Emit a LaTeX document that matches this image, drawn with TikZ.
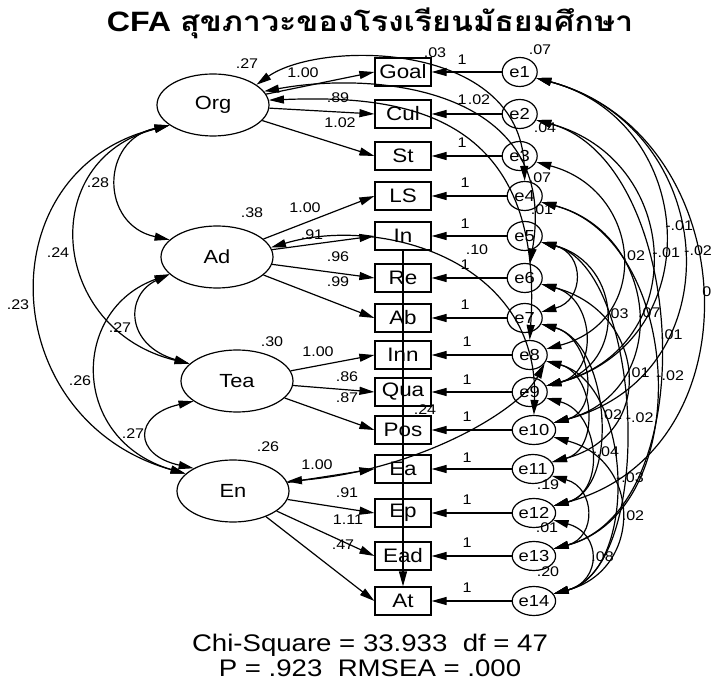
\documentclass[tikz,border=0pt]{standalone}
\usepackage{fontspec}
\setmainfont{Liberation Sans}[FakeStretch=1.15]
\newfontfamily\thaifont[Script=Thai,FakeStretch=1.15]{Loma}
\usetikzlibrary{positioning,arrows.meta,shapes.geometric}

\begin{document}
\begin{tikzpicture}[x=1pt,y=1pt,>={Triangle[length=15pt,width=8pt]},line width=1.2pt,
    latent/.style={ellipse,draw,minimum width=112pt,minimum height=62pt,font=\fontsize{19}{19}\selectfont},
    obs/.style={rectangle,draw,minimum width=56pt,minimum height=28pt,inner sep=0pt,font=\fontsize{19.5}{19.5}\selectfont},
    err/.style={ellipse,draw,minimum width=35pt,minimum height=29pt,inner sep=0pt,font=\fontsize{16}{16}\selectfont},
    num/.style={font=\fontsize{14}{14}\selectfont,inner sep=1pt},
    load/.style={->},
    cov/.style={<->}]
    \useasboundingbox (0,0) rectangle (718,-684);
    \node (title) at (370,-23) {\fontsize{28}{28}\selectfont\bfseries CFA {\thaifont สุขภาวะของโรงเรียนมัธยมศึกษา}};

    % latent variables
    \node[latent] (Org) at (213,-105) {Org};
    \node[latent] (Ad) at (217,-257) {Ad};
    \node[latent] (Tea) at (237,-381) {Tea};
    \node[latent] (En) at (233,-491) {En};

    % observed variables
    \node[obs] (Goal) at (403,-72) {Goal};
    \node[obs] (Cul) at (403,-114) {Cul};
    \node[obs] (St) at (403,-156) {St};
    \node[obs] (LS) at (403,-196) {LS};
    \node[obs] (In) at (403,-236) {In};
    \node[obs] (Re) at (403,-278) {Re};
    \node[obs] (Ab) at (403,-318) {Ab};
    \node[obs] (Inn) at (403,-355) {Inn};
    \node[obs] (Qua) at (403,-392) {Qua};
    \node[obs] (Pos) at (403,-430) {Pos};
    \node[obs] (Ea) at (403,-469) {Ea};
    \node[obs] (Ep) at (403,-513) {Ep};
    \node[obs] (Ead) at (403,-556) {Ead};
    \node[obs] (At) at (403,-601) {At};

    % errors
    \node[err] (e1) [right=70pt of Goal] {e1};
    \node[err] (e2) [right=70pt of Cul] {e2};
    \node[err] (e3) [right=70pt of St] {e3};
    \node[err] (e4) [right=75pt of LS] {e4};
    \node[err] (e5) [right=75pt of In] {e5};
    \node[err] (e6) [right=75pt of Re] {e6};
    \node[err] (e7) [right=75pt of Ab] {e7};
    \node[err] (e8) [right=80pt of Inn] {e8};
    \node[err] (e9) [right=80pt of Qua] {e9};
    \node[err] (e10) [right=80pt of Pos] {e10};
    \node[err] (e11) [right=80pt of Ea] {e11};
    \node[err] (e12) [right=80pt of Ep] {e12};
    \node[err] (e13) [right=80pt of Ead] {e13};
    \node[err] (e14) [right=80pt of At] {e14};

    % loadings
    \draw[load] (Org) -- (Goal.west);
    \draw[load] (Org) -- (Cul.west);
    \draw[load] (Org) -- (St.west);
    \draw[load] (Ad) -- (LS.west);
    \draw[load] (Ad) -- (In.west);
    \draw[load] (Ad) -- (Re.west);
    \draw[load] (Ad) -- (Ab.west);
    \draw[load] (Tea) -- (Inn.west);
    \draw[load] (Tea) -- (Qua.west);
    \draw[load] (Tea) -- (Pos.west);
    \draw[load] (En) -- (Ea.west);
    \draw[load] (En) -- (Ep.west);
    \draw[load] (En) -- (Ead.west);
    \draw[load] (En) -- (At.west);
    \draw[load] (In) -- (At);

    % error paths
    \draw[load] (e1) -- (Goal);
    \draw[load] (e2) -- (Cul);
    \draw[load] (e3) -- (St);
    \draw[load] (e4) -- (LS);
    \draw[load] (e5) -- (In);
    \draw[load] (e6) -- (Re);
    \draw[load] (e7) -- (Ab);
    \draw[load] (e8) -- (Inn);
    \draw[load] (e9) -- (Qua);
    \draw[load] (e10) -- (Pos);
    \draw[load] (e11) -- (Ea);
    \draw[load] (e12) -- (Ep);
    \draw[load] (e13) -- (Ead);
    \draw[load] (e14) -- (At);

    % latent covariances
    \draw[cov] (Org.205) .. controls (100,-140) and (100,-225) .. (Ad.160);
    \draw[cov] (Org.205) .. controls (35,-160) and (50,-330) .. (Tea.160);
    \draw[cov] (Org.205) .. controls (-15,-170) and (-5,-420) .. (En.160);
    \draw[cov] (Ad.200) .. controls (125,-295) and (125,-345) .. (Tea.160);
    \draw[cov] (Ad.200) .. controls (70,-310) and (70,-440) .. (En.160);
    \draw[cov] (Tea.205) .. controls (133,-415) and (133,-455) .. (En.150);

    % cross paths
    \draw[cov] (Org.25) .. controls (320,-40) and (520,-40) .. (e4.north);
    \draw[cov] (Org.15) .. controls (380,-70) and (560,-90) .. (e6.70);
    \draw[cov] (Org.5) .. controls (400,-95) and (545,-110) .. (e8.north);
    \draw[cov] (Ad.10) .. controls (380,-215) and (540,-260) .. (e10.north);
    \draw[cov] (En.10) .. controls (420,-470) and (520,-410) .. (e8.-30);

    % error covariances
    \draw[cov] (e1.-20) .. controls +(-15:215) and +(15:215) .. (e12.20) node[num,pos=.5,right] {0};
    \draw[cov] (e1.-20) .. controls +(-15:190) and +(15:190) .. (e10.20) node[num,pos=.5,right] {-.02};
    \draw[cov] (e1.-20) .. controls +(-15:169) and +(15:169) .. (e9.20) node[num,pos=.5,above right] {-.01};
    \draw[cov] (e2.-20) .. controls +(-15:151) and +(15:151) .. (e9.20) node[num,pos=.5,right] {-.01};
    \draw[cov] (e3.-20) .. controls +(-15:110) and +(15:110) .. (e8.20) node[num,pos=.5,right] {.02};
    \draw[cov] (e5.-20) .. controls +(-15:84) and +(15:84) .. (e9.20) node[num,pos=.5,right] {.03};
    \draw[cov] (e4.-20) .. controls +(-15:123) and +(15:123) .. (e10.20) node[num,pos=.5,right] {.07};
    \draw[cov] (e2.-20) .. controls +(-15:157) and +(15:157) .. (e13.20) node[num,pos=.5,right] {.01};
    \draw[cov] (e6.-20) .. controls +(-15:109) and +(15:109) .. (e11.20) node[num,pos=.5,right] {.01};
    \draw[cov] (e4.-20) .. controls +(-15:148) and +(15:148) .. (e13.20) node[num,pos=.5,right] {-.02};
    \draw[cov] (e7.-20) .. controls +(-15:70) and +(15:70) .. (e12.20) node[num,pos=.5,right] {.02};
    \draw[cov] (e5.-20) .. controls +(-15:106) and +(15:106) .. (e14.20) node[num,pos=.5,right] {-.02};
    \draw[cov] (e9.-20) .. controls +(-15:55) and +(15:55) .. (e12.20) node[num,pos=.5,right] {-.04};
    \draw[cov] (e8.-20) .. controls +(-15:89) and +(15:89) .. (e14.20) node[num,pos=.5,right] {-.03};
    \draw[cov] (e10.-20) .. controls +(-15:92) and +(15:92) .. (e14.20) node[num,pos=.5,right] {.02};
    \draw[cov] (e12.-20) .. controls +(-15:50) and +(15:50) .. (e14.20) node[num,pos=.5,right] {.08};
    \draw[cov] (e5.-20) .. controls +(-15:45) and +(15:45) .. (e7.20);
    \draw[cov] (e6.-20) .. controls +(-15:55) and +(15:55) .. (e9.20);
    \draw[cov] (e7.-20) .. controls +(-15:50) and +(15:50) .. (e10.20);
    \draw[cov] (e8.-20) .. controls +(-15:50) and +(15:50) .. (e11.20);
    \draw[cov] (e11.-20) .. controls +(-15:45) and +(15:45) .. (e13.20);

    % estimates
    \node[num] (vOrg) at (247,-64) {.27};
    \node[num] (vAd) at (252,-213) {.38};
    \node[num] (vTea) at (272,-342) {.30};
    \node[num] (vEn) at (268,-447) {.26};
    \node[num] (cOrgAd) at (98,-183) {.28};
    \node[num] (cOrgTea) at (58,-253) {.24};
    \node[num] (cOrgEn) at (18,-305) {.23};
    \node[num] (cAdTea) at (120,-328) {.27};
    \node[num] (cAdEn) at (80,-381) {.26};
    \node[num] (cTeaEn) at (133,-434) {.27};
    \node[num] (lGoal) at (303,-73) {1.00};
    \node[num] (lCul) at (338,-98) {.89};
    \node[num] (lSt) at (340,-123) {1.02};
    \node[num] (lLS) at (305,-208) {1.00};
    \node[num] (lIn) at (312,-235) {.91};
    \node[num] (lRe) at (338,-257) {.96};
    \node[num] (lAb) at (338,-282) {.99};
    \node[num] (lInn) at (318,-352) {1.00};
    \node[num] (lQua) at (347,-377) {.86};
    \node[num] (lPos) at (347,-398) {.87};
    \node[num] (lEa) at (317,-465) {1.00};
    \node[num] (lEp) at (347,-493) {.91};
    \node[num] (lEad) at (348,-520) {1.11};
    \node[num] (lAt) at (343,-545) {.47};
    \node[num] (rGoal) at (435,-53) {.03};
    \node[num] (rCul) at (479,-100) {.02};
    \node[num] (rIn) at (477,-250) {.10};
    \node[num] (rPos) at (425,-410) {.24};
    \node[num] (ve1) at (540,-50) {.07};
    \node[num] (ve3) at (545,-128) {.04};
    \node[num] (ve4) at (540,-178) {.07};
    \node[num] (ve5) at (542,-210) {.01};
    \node[num] (ve12) at (548,-485) {.19};
    \node[num] (ve13) at (547,-528) {.01};
    \node[num] (ve14) at (548,-572) {.20};
    \node[num] (p1) at (462,-60) {1};
    \node[num] (p2) at (462,-100) {1};
    \node[num] (p3) at (462,-143) {1};
    \node[num] (p4) at (465,-183) {1};
    \node[num] (p5) at (465,-224) {1};
    \node[num] (p6) at (465,-265) {1};
    \node[num] (p7) at (465,-305) {1};
    \node[num] (p8) at (467,-342) {1};
    \node[num] (p9) at (467,-380) {1};
    \node[num] (p10) at (467,-417) {1};
    \node[num] (p11) at (467,-458) {1};
    \node[num] (p12) at (467,-500) {1};
    \node[num] (p13) at (467,-543) {1};
    \node[num] (p14) at (467,-588) {1};

    % fit
    \node[font=\fontsize{24}{24}\selectfont] (chi) at (370,-645) {Chi-Square = 33.933\ \ df = 47};
    \node[font=\fontsize{24}{24}\selectfont] (fit) at (370,-668) {P = .923\ \ RMSEA = .000};
\end{tikzpicture}
\end{document}
